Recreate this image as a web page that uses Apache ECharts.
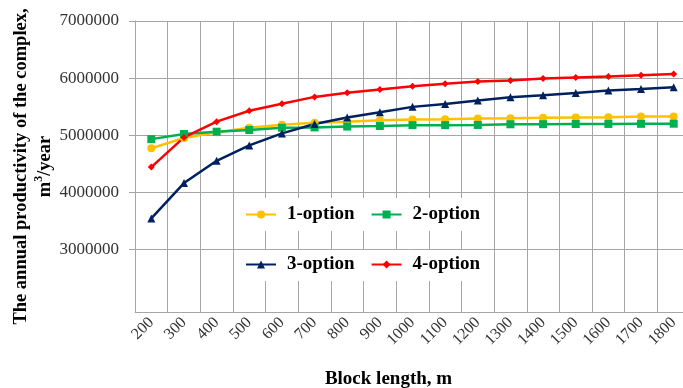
<!DOCTYPE html>
<html>
<head>
<meta charset="utf-8">
<script src="https://cdn.jsdelivr.net/npm/echarts@6/dist/echarts.min.js"></script>
<style>html,body{margin:0;padding:0;background:#fff;}#c{width:683px;height:388px;}</style>
</head>
<body>
<div id="c"></div>
<script>
const categories = ['200','300','400','500','600','700','800','900','1000','1100','1200','1300','1400','1500','1600','1700','1800'];
const seriesNames = ['1-option','2-option','3-option','4-option'];
const opt1 = [4770000, 4950000, 5050000, 5130000, 5180000, 5215000, 5235000, 5260000, 5275000, 5280000, 5290000, 5295000, 5305000, 5310000, 5312000, 5325000, 5328000];
const opt2 = [4930000, 5020000, 5060000, 5090000, 5130000, 5135000, 5150000, 5160000, 5175000, 5175000, 5178000, 5190000, 5192000, 5195000, 5196000, 5198000, 5200000];
const opt3 = [3540000, 4160000, 4550000, 4820000, 5030000, 5195000, 5310000, 5400000, 5495000, 5545000, 5608000, 5665000, 5698000, 5738000, 5782000, 5810000, 5840000];
const opt4 = [4440000, 4960000, 5236000, 5428000, 5550000, 5670000, 5742000, 5800000, 5858000, 5900000, 5940000, 5957000, 5992000, 6010000, 6027000, 6050000, 6070000];
const yMin = 1900000, yMax = 7000000;
const yTicks = [3000000, 4000000, 5000000, 6000000, 7000000];

const serif = '"Liberation Serif", "Times New Roman", serif';
const grid = '#a6a6a6';
const chart = echarts.init(document.getElementById('c'));

function mk(name, data, color, symbol, size) {
  return {
    name, type: 'line', data, symbol, symbolSize: size, showSymbol: true,
    lineStyle: { color, width: 2.5 }, itemStyle: { color },
    animation: false
  };
}

const legendText = { fontFamily: serif, fontWeight: 'bold', fontSize: 19, color: '#000', padding: [0,0,0,6] };

chart.setOption({
  animation: false,
  grid: { left: 135, top: 21, right: -7, bottom: 76, containLabel: false, outerBoundsMode: 'none' },
  legend: [
    {
      data: ['1-option','2-option'], left: 237, top: 198, orient: 'horizontal',
      itemWidth: 30, itemHeight: 10, itemGap: 16, padding: [7, 8, 7, 8],
      backgroundColor: '#fff', textStyle: legendText
    },
    {
      data: ['3-option','4-option'], left: 237, top: 250, orient: 'horizontal',
      itemWidth: 30, itemHeight: 10, itemGap: 16, padding: [5, 8, 7, 8],
      backgroundColor: '#fff', textStyle: legendText
    }
  ],
  xAxis: {
    type: 'category', data: categories, boundaryGap: true,
    axisLine: { lineStyle: { color: grid, width: 1 } },
    axisTick: { show: false },
    splitLine: { show: true, lineStyle: { color: grid, width: 1 } },
    axisLabel: { rotate: 45, margin: 8, fontFamily: serif, fontSize: 16, color: '#333', interval: 0 },
    name: 'Block length, m', nameLocation: 'middle', nameGap: 58, nameMoveOverlap: false,
    nameTextStyle: { fontFamily: serif, fontWeight: 'bold', fontSize: 19, color: '#000', padding: [0, 48, 0, 0] }
  },
  yAxis: {
    type: 'value', min: yMin, max: yMax, splitNumber: 5,
    axisLine: { show: true, lineStyle: { color: grid, width: 1 } },
    axisTick: { show: true, length: 6, lineStyle: { color: grid }, customValues: yTicks },
    splitLine: { show: true, lineStyle: { color: grid, width: 1 } },
    axisLabel: {
      margin: 16, fontFamily: serif, fontSize: 17, color: '#333',
      customValues: yTicks,
      formatter: v => String(v)
    },
    name: 'The annual productivity of the complex,\nm{sup|3}/year',
    nameLocation: 'middle', nameRotate: 90, nameGap: 78, nameMoveOverlap: false,
    nameTextStyle: {
      fontFamily: serif, fontWeight: 'bold', fontSize: 18.5, color: '#000', lineHeight: 24, align: 'center',
      rich: { sup: { fontFamily: serif, fontWeight: 'bold', fontSize: 12, color: '#000', verticalAlign: 'top', padding: [0,0,8,0] } }
    }
  },
  series: [
    mk('1-option', opt1, '#FFC000', 'circle', 8),
    mk('2-option', opt2, '#00B050', 'rect', 8),
    mk('3-option', opt3, '#002060', 'triangle', 8),
    mk('4-option', opt4, '#FF0000', 'diamond', 7)
  ]
});
</script>
</body>
</html>
